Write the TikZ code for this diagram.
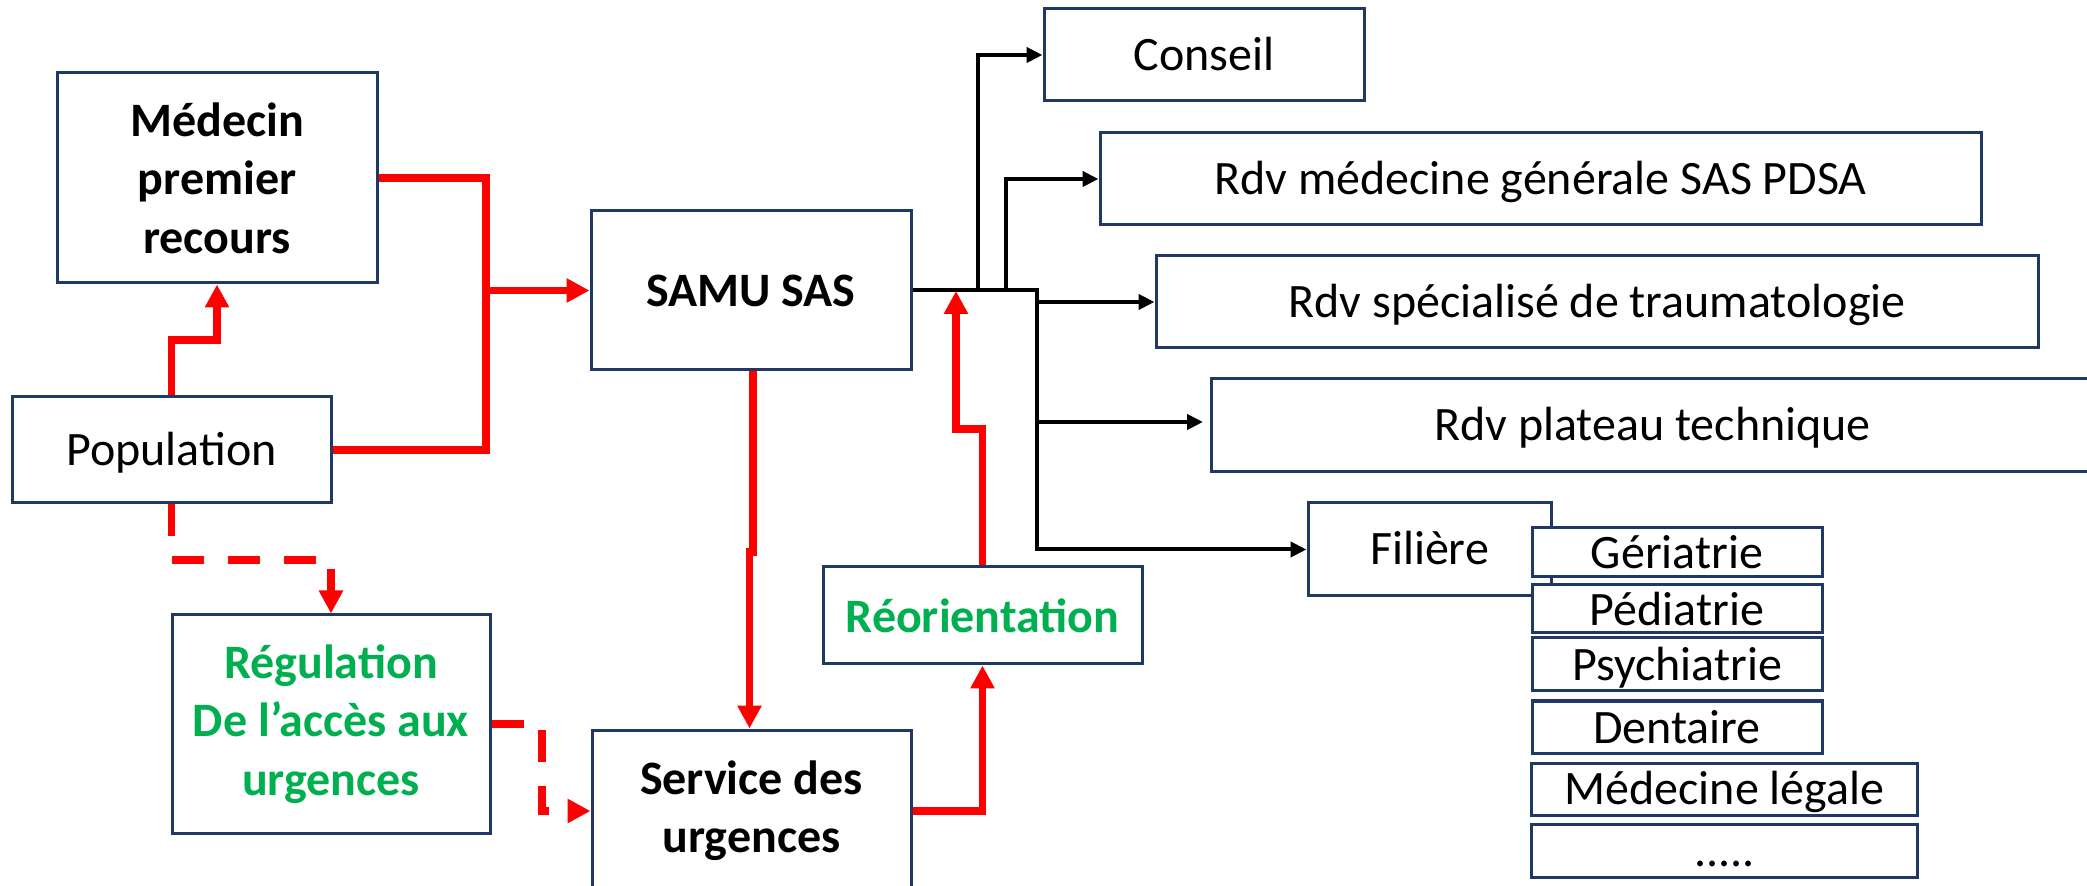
\documentclass[tikz,border=0pt]{standalone}
\usepackage{fontspec}
\setmainfont{Carlito}
\usetikzlibrary{arrows.meta}
\definecolor{boxc}{HTML}{1F3864}
\definecolor{grn}{HTML}{00B050}
\begin{document}
\begin{tikzpicture}[x=0.5pt,y=-0.5pt,
  box/.style={draw=boxc, line width=1.5pt, fill=white, inner sep=0pt, font=\fontsize{24}{29.2}\selectfont},
  one/.style={text height=15.5pt, text depth=0pt},
  sml/.style={text height=16.5pt, text depth=0pt},
  bld/.style={font=\fontsize{24}{29.2}\selectfont\bfseries, align=center},
  redl/.style={draw=red, line width=3.75pt, -{Triangle[length=11.5pt,width=11.5pt]}},
  redn/.style={draw=red, line width=3.75pt},
  redd/.style={redl, dash pattern=on 16pt off 12pt},
  blka/.style={draw=black, line width=2pt, -{Triangle[length=8pt,width=7.5pt]}},
]
\useasboundingbox (0,0) rectangle (2087,886);
\clip (0,0) rectangle (2087,886);

% left / centre boxes
\node[box,bld,minimum width=160pt,minimum height=105pt] (med) at (217,178) {Médecin\\premier\\recours};
\node[box,one,minimum width=159.5pt,minimum height=53pt] (pop) at (171.5,450) {Population};
\node[box,bld,minimum width=160pt,minimum height=79.5pt] (samu) at (751,290.5) {SAMU SAS};
\node[box,bld,text=grn,minimum width=159pt,minimum height=109pt] (reg) at (331,724) {Régulation\\De l’accès aux\\urgences};
\node[box,bld,minimum width=159.5pt,minimum height=81pt] (serv) at (751.5,811) {Service des\\urgences};
\node[box,bld,text=grn,minimum width=159.5pt,minimum height=48.5pt] (reor) at (982.5,615.5) {Réorientation};

% right boxes
\node[box,one,minimum width=160pt,minimum height=46pt] (conseil) at (1204,55) {Conseil};
\node[box,one,minimum width=440.5pt,minimum height=46pt] (rdvmg) at (1540.5,179) {Rdv médecine générale SAS PDSA};
\node[box,one,minimum width=441pt,minimum height=46pt] (rdvsp) at (1597,302) {Rdv spécialisé de traumatologie};
\node[box,one,minimum width=441.5pt,minimum height=46.5pt] (rdvpt) at (1652.5,425.5) {Rdv plateau technique};
\node[box,one,minimum width=121.5pt,minimum height=46.5pt] (fil) at (1429.5,549.5) {Filière};

% filières
\node[box,sml,minimum width=145pt,minimum height=24.5pt] (ger) at (1677,552.5) {Gériatrie};
\node[box,sml,minimum width=145pt,minimum height=24pt] (ped) at (1677,609) {Pédiatrie};
\node[box,sml,minimum width=145pt,minimum height=26.5pt] (psy) at (1677,664.5) {Psychiatrie};
\node[box,sml,minimum width=145pt,minimum height=26pt] (den) at (1677,727) {Dentaire};
\node[box,one,minimum width=193pt,minimum height=26pt] (mleg) at (1724.5,789) {Médecine légale};
\node[box,one,minimum width=193pt,minimum height=26.5pt] (dots) at (1724.5,850.5) {.....};

% helper coordinates
\coordinate (j1) at (486,290.5);
\coordinate (c1) at (217,340);
\coordinate (c2) at (331,560);
\coordinate (c3) at (542,811);
\coordinate (c4) at (753,552);
\coordinate (c5) at (749.5,552);
\coordinate (c6) at (956,429);
\coordinate (t1) at (956,291);
\coordinate (k0) at (1037,290.5);
\coordinate (k1) at (978,290.5);
\coordinate (k2) at (1006,290.5);
\coordinate (k3) at (1037,302);
\coordinate (k4) at (1037,422);
\coordinate (k5) at (1203,422);

% black connectors
\draw[blka] (samu.east) -- (k0) |- (fil.west);
\draw[blka] (k1) |- (conseil.west);
\draw[blka] (k2) |- (rdvmg.west);
\draw[blka] (k3) -- (rdvsp.west);
\draw[blka] (k4) -- (k5);

% red connectors
\draw[redl] (med.east) -| (j1) -- (samu.west);
\draw[redn] (pop.east) -| (j1);
\draw[redl] (pop.north) |- (c1) -- (med.south);
\draw[redd] (pop.south) |- (c2) -- (reg.north);
\draw[redd] (reg.east) -| (c3) -- (serv.west);
\draw[redl] (samu.south -| c4) -- (c4) -- (c5) -- (serv.north -| c5);
\draw[redl] (serv.east) -| (reor.south);
\draw[redl] (reor.north) |- (c6) -- (t1);
\end{tikzpicture}
\end{document}
